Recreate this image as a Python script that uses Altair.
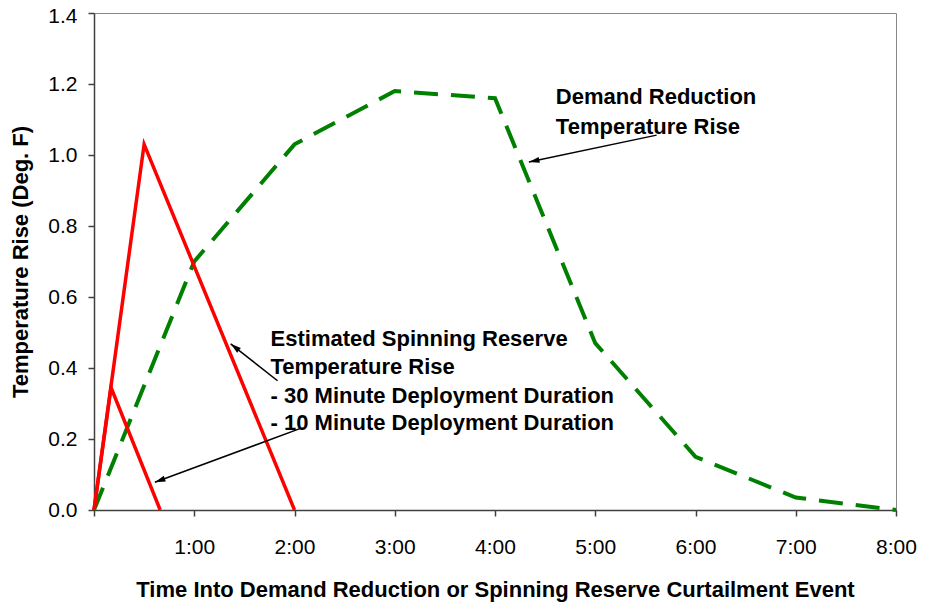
import math
import altair as alt
import pandas as pd

# ---- data ----
green_t = [0, 1, 2, 3, 4, 5, 6, 7, 8]
green_v = [0.0, 0.70, 1.03, 1.18, 1.16, 0.47, 0.15, 0.035, 0.0]

red30_t = [0, 0.5, 2.0]
red30_v = [0.0, 1.03, 0.0]

red10_t = [0, 0.17, 0.66]
red10_v = [0.0, 0.345, 0.0]

x_ticks = [0, 1, 2, 3, 4, 5, 6, 7, 8]
y_ticks = [0.0, 0.2, 0.4, 0.6, 0.8, 1.0, 1.2, 1.4]

# annotation texts (left x, baseline y, in data units)
note_text = ["Demand Reduction", "Temperature Rise",
             "Estimated Spinning Reserve", "Temperature Rise",
             "- 30 Minute Deployment Duration", "- 10 Minute Deployment Duration"]
note_x = [4.607, 4.607, 1.761, 1.761, 1.761, 1.761]
note_y = [1.143, 1.059, 0.462, 0.384, 0.3025, 0.224]

# arrows: start -> tip (data units)
arrow_x1 = [5.612, 1.831, 2.060]
arrow_y1 = [1.056, 0.364, 0.230]
arrow_x2 = [4.338, 1.363, 0.607]
arrow_y2 = [0.980, 0.468, 0.078]

W, H = 802, 497
XMAX, YMAX = 8, 1.4
FONT = "Liberation Sans"

green = pd.DataFrame({"t": green_t, "v": green_v})
red30 = pd.DataFrame({"t": red30_t, "v": red30_v})
red10 = pd.DataFrame({"t": red10_t, "v": red10_v})
notes = pd.DataFrame({"text": note_text, "x": note_x, "y": note_y})

angles = []
for xa, ya, xb, yb in zip(arrow_x1, arrow_y1, arrow_x2, arrow_y2):
    dx = (xb - xa) * W / XMAX
    dy = -(yb - ya) * H / YMAX
    angles.append(math.degrees(math.atan2(dx, -dy)) % 360)
arrows = pd.DataFrame({"x1": arrow_x1, "y1": arrow_y1,
                       "x2": arrow_x2, "y2": arrow_y2, "ang": angles})

xs = alt.Scale(domain=[0, XMAX], nice=False)
ys = alt.Scale(domain=[0, YMAX], nice=False)

x_axis = alt.Axis(values=x_ticks, labelExpr="datum.value == 0 ? '' : datum.value + ':00'",
                  title="Time Into Demand Reduction or Spinning Reserve Curtailment Event",
                  grid=False, tickSize=6, labelPadding=20, titlePadding=22, labelFlush=False)
y_axis = alt.Axis(values=y_ticks, format=".1f", title="Temperature Rise (Deg. F)",
                  grid=False, tickSize=6, labelPadding=11, titlePadding=15, labelFlush=False,
                  labelOffset={"condition": {"test": "datum.value >= 1.39", "value": 3}, "value": 0})

base_x = alt.X("t:Q", scale=xs, axis=x_axis)
base_y = alt.Y("v:Q", scale=ys, axis=y_axis)

g = alt.Chart(green).mark_line(color="#008000", strokeWidth=4, strokeDash=[24, 13]).encode(
    x=base_x, y=base_y)
r1 = alt.Chart(red30).mark_line(color="#FF0000", strokeWidth=3.5).encode(
    x=alt.X("t:Q", scale=xs), y=alt.Y("v:Q", scale=ys))
r2 = alt.Chart(red10).mark_line(color="#FF0000", strokeWidth=3.5).encode(
    x=alt.X("t:Q", scale=xs), y=alt.Y("v:Q", scale=ys))

txt = alt.Chart(notes).mark_text(align="left", baseline="alphabetic", font=FONT,
                                 fontSize=22, fontWeight="bold", color="black").encode(
    x=alt.X("x:Q", scale=xs), y=alt.Y("y:Q", scale=ys), text="text:N")

lines = alt.Chart(arrows).mark_rule(color="black", strokeWidth=1.5).encode(
    x=alt.X("x1:Q", scale=xs), y=alt.Y("y1:Q", scale=ys), x2="x2:Q", y2="y2:Q")
heads = alt.Chart(arrows).mark_point(shape="M0,0L0.42,1.5L-0.42,1.5Z", filled=True,
                                     color="black", opacity=1, size=200).encode(
    x=alt.X("x2:Q", scale=xs), y=alt.Y("y2:Q", scale=ys), angle=alt.Angle("ang:Q", scale=None))

chart = alt.layer(g, r1, r2, lines, heads, txt).properties(
    width=W, height=H,
    background="white",
    autosize=alt.AutoSizeParams(type="none"),
    padding={"left": 86, "top": 5, "right": 23, "bottom": 100},
).configure_view(stroke="#888888", strokeWidth=1).configure_axis(
    labelFont=FONT, titleFont=FONT, labelFontSize=21, titleFontSize=22,
    titleFontWeight="bold", labelColor="black", titleColor="black",
    domainColor="#404040", domainWidth=1.5, tickColor="#404040", tickWidth=1.5,
)

chart.save("out.html", embed_options={"renderer": "svg", "actions": False})
